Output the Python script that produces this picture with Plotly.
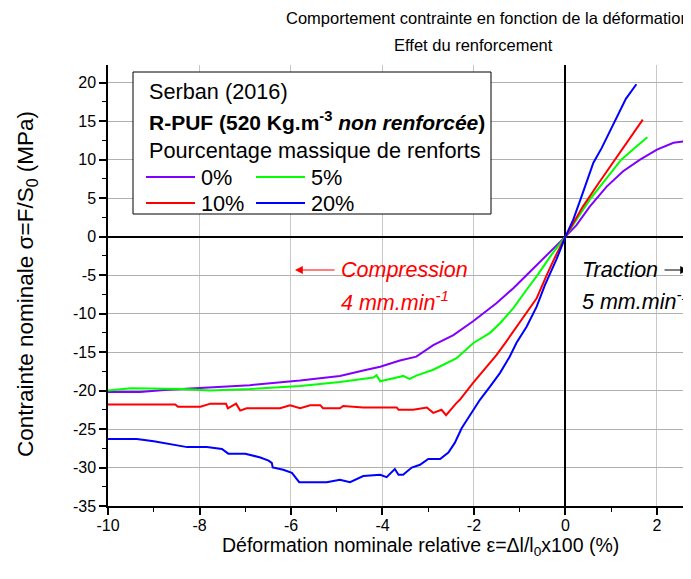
import plotly.graph_objects as go

# ---------------- data ----------------
x_0 = [-10.0, -9.3, -8.7, -8.0, -6.9, -5.8, -4.93, -4.42, -4.05, -3.62, -3.26, -2.89, -2.45,
       -2.02, -1.51, -1.14, -0.78, -0.41, 0.0, 0.24, 0.53, 0.9, 1.26, 1.63, 2.0, 2.36, 2.62]
y_0 = [-20.2, -20.2, -19.9, -19.7, -19.3, -18.7, -18.1, -17.4, -16.9, -16.1, -15.6, -14.1, -12.8,
       -11.0, -8.65, -6.7, -4.6, -2.4, 0.0, 1.5, 3.9, 6.5, 8.5, 10.0, 11.3, 12.2, 12.4]

x_5 = [-10.0, -9.5, -8.35, -7.77, -6.9, -5.8, -4.93, -4.2, -4.13, -4.05, -3.62, -3.55, -3.41,
       -3.26, -2.89, -2.38, -2.02, -1.65, -1.43, -1.14, -0.85, -0.6, -0.3, 0.0, 0.24, 0.53,
       0.9, 1.22, 1.55, 1.79]
y_5 = [-20.0, -19.7, -19.8, -20.0, -19.8, -19.4, -18.9, -18.3, -18.0, -18.8, -18.2, -18.1, -18.5,
       -18.05, -17.3, -15.8, -13.85, -12.5, -11.25, -9.3, -6.9, -4.9, -2.3, 0.0, 2.2, 4.8,
       7.6, 10.0, 11.7, 12.9]

x_10 = [-10.0, -8.53, -8.47, -7.98, -7.76, -7.42, -7.38, -7.2, -7.11, -6.97, -6.24, -6.02, -5.8,
        -5.58, -5.36, -5.3, -4.93, -4.86, -4.42, -3.69, -3.65, -3.33, -3.03, -2.89, -2.71, -2.61,
        -2.38, -2.31, -2.02, -1.72, -1.51, -1.29, -1.07, -0.85, -0.63, -0.41, -0.2, 0.0, 0.17,
        0.38, 0.72, 1.08, 1.41, 1.69]
y_10 = [-21.8, -21.8, -22.1, -22.1, -21.7, -21.7, -22.3, -21.7, -22.6, -22.3, -22.3, -21.9, -22.3,
        -21.9, -21.9, -22.3, -22.3, -22.0, -22.2, -22.2, -22.5, -22.5, -22.2, -22.9, -22.5, -23.2,
        -21.6, -21.2, -19.0, -16.9, -15.4, -13.6, -11.7, -9.95, -8.0, -5.0, -2.3, 0.0, 1.7,
        3.9, 6.9, 10.0, 12.8, 15.2]

x_20 = [-10.0, -9.37, -9.0, -8.27, -7.84, -7.51, -7.37, -7.0, -6.67, -6.49, -6.42, -6.4, -6.17,
        -5.98, -5.82, -5.22, -4.93, -4.71, -4.42, -4.05, -3.91, -3.73, -3.65, -3.55, -3.36, -3.18,
        -3.0, -2.74, -2.56, -2.42, -2.27, -2.02, -1.87, -1.65, -1.43, -1.22, -1.07, -0.85, -0.63,
        -0.45, -0.2, 0.0, 0.17, 0.35, 0.61, 0.79, 1.08, 1.32, 1.55]
y_20 = [-26.3, -26.3, -26.6, -27.35, -27.35, -27.6, -28.2, -28.2, -28.7, -29.1, -29.4, -30.0, -30.3,
        -30.7, -31.9, -31.9, -31.6, -31.9, -31.1, -30.95, -31.25, -30.2, -30.95, -30.95, -30.0, -29.65,
        -28.9, -28.9, -28.05, -26.8, -24.9, -22.5, -21.2, -19.5, -17.7, -15.6, -13.8, -11.7, -9.1,
        -6.3, -3.0, 0.0, 2.2, 5.2, 9.6, 11.5, 15.0, 17.9, 19.8]

series_names = ["0%", "5%", "10%", "20%"]
series_colors = ["#8000FF", "#00FF00", "#FF0000", "#0000FF"]
series_x = [x_0, x_5, x_10, x_20]
series_y = [y_0, y_5, y_10, y_20]

x_ticks = [-10, -8, -6, -4, -2, 0, 2]
y_ticks = [-35, -30, -25, -20, -15, -10, -5, 0, 5, 10, 15, 20]

# ---------------- geometry (page has an 8 px body margin) ----------------
OFF = 8
W, H = 683, 571
L, T = 108 - OFF, 65 - OFF          # plot area left / top in figure pixels
PW = 581                              # plot width
PH = 441                              # plot height
R = W - L - PW
B = H - T - PH


def px(x):
    """reference-page pixel -> paper x"""
    return (x - OFF - L) / PW


def py(y):
    """reference-page pixel -> paper y"""
    return (T + PH - (y - OFF)) / PH


FONT = "Liberation Sans, Arial, sans-serif"

fig = go.Figure()
for name, col, xs, ys in zip(series_names, series_colors, series_x, series_y):
    fig.add_trace(go.Scatter(x=xs, y=ys, mode="lines", name=name,
                             line=dict(color=col, width=2), showlegend=False))

fig.update_layout(
    width=W, height=H,
    margin=dict(l=L, r=R, t=T, b=B, pad=0),
    paper_bgcolor="white", plot_bgcolor="white",
    font=dict(family=FONT, color="black"),
)

fig.update_xaxes(range=[-10, 2.7], tickvals=x_ticks, ticktext=[str(v) for v in x_ticks],
                 showgrid=True, gridcolor="#c8c8c8", gridwidth=1,
                 zeroline=True, zerolinecolor="black", zerolinewidth=1.5,
                 showline=True, linecolor="black", linewidth=1.5,
                 ticks="outside", ticklen=7, tickwidth=1.5, tickcolor="black",
                 ticklabelstandoff=-3,
                 minor=dict(dtick=1, tick0=0, ticks="outside", ticklen=4, tickwidth=1.2,
                            tickcolor="black", showgrid=False),
                 tickfont=dict(size=16, family=FONT))
fig.update_yaxes(range=[-35, 22.3], tickvals=y_ticks, ticktext=[str(v) for v in y_ticks],
                 showgrid=True, gridcolor="#b0b0b0", gridwidth=1,
                 zeroline=True, zerolinecolor="black", zerolinewidth=1.5,
                 showline=True, linecolor="black", linewidth=1.5,
                 ticks="outside", ticklen=7, tickwidth=1.5, tickcolor="black",
                 minor=dict(dtick=2.5, tick0=0, ticks="outside", ticklen=4, tickwidth=1.2,
                            tickcolor="black", showgrid=False),
                 tickfont=dict(size=16, family=FONT))


def text(t, x, y, size, anchor="center", color="black", angle=0):
    return dict(text=t, x=px(x), y=py(y), xref="paper", yref="paper", showarrow=False,
                xanchor=anchor, yanchor="middle", textangle=angle,
                font=dict(size=size, color=color, family=FONT))


ann = []
# titles
ann.append(text("Comportement contrainte en fonction de la déformation", 488, 18, 16.5))
ann.append(text("Effet du renforcement", 473, 45, 16.5))
# axis titles
ann.append(text("Déformation nominale relative ε=Δl/l<sub>0</sub>x100 (%)", 420, 546, 19.5))
ann.append(text("Contrainte nominale σ=F/S<sub>0</sub> (MPa)", 27, 284, 22.5, angle=-90))

# legend box
shapes = [dict(type="rect", xref="paper", yref="paper", x0=px(133), x1=px(491), y0=py(214), y1=py(72),
               line=dict(color="black", width=1), fillcolor="white", layer="above")]
ann.append(text("Serban (2016)", 147, 92, 21.7, anchor="left"))
ann.append(text("<b>R-PUF (520 Kg.m<sup>-3</sup> <i>non renforcée</i>)</b>", 147, 121, 21, anchor="left"))
ann.append(text("Pourcentage massique de renforts", 147, 150, 21.7, anchor="left"))
leg_pos = [(146, 177), (256, 177), (146, 203), (256, 203)]
for (lx, ly), name, col in zip(leg_pos, series_names, series_colors):
    shapes.append(dict(type="line", xref="paper", yref="paper", x0=px(lx), x1=px(lx + 49),
                       y0=py(ly), y1=py(ly), line=dict(color=col, width=2), layer="above"))
    ann.append(text(name, lx + 53, ly, 21.7, anchor="left"))

# compression / traction
ann.append(text("<i>Compression</i>", 339, 270, 21.5, anchor="left", color="#FF0000"))
ann.append(text("<i>4 mm.min<sup>-1</sup></i>", 339, 301, 21.5, anchor="left", color="#FF0000"))
ann.append(dict(text="", x=px(295), y=py(270), ax=41, ay=0, xref="paper", yref="paper",
                showarrow=True, arrowhead=2, arrowsize=1.3, arrowwidth=1.2, arrowcolor="#FF0000"))
ann.append(text("<i>Traction</i>", 580, 270, 21.5, anchor="left"))
ann.append(text("<i>5 mm.min<sup>-1</sup></i>", 580, 300, 21.5, anchor="left"))
ann.append(dict(text="", x=px(688), y=py(270), ax=-25, ay=0, xref="paper", yref="paper",
                showarrow=True, arrowhead=2, arrowsize=1.3, arrowwidth=1.2, arrowcolor="black"))

fig.update_layout(annotations=ann, shapes=shapes)
fig.write_html("out.html")
